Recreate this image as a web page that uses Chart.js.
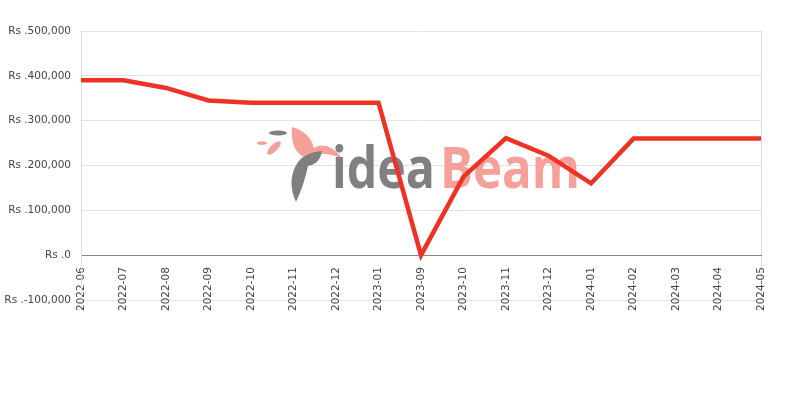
<!DOCTYPE html>
<html>
<head>
<meta charset="utf-8">
<script src="https://cdn.jsdelivr.net/npm/chart.js@4.4.1/dist/chart.umd.min.js"></script>
<style>
  html, body { margin: 0; padding: 0; background: #fff; }
  #wrap { width: 800px; height: 400px; }
</style>
</head>
<body>
<div id="wrap"><canvas id="priceCanvas"></canvas></div>
<script>
// months shown on the axis
const months = ["2022-06", "2022-07", "2022-08", "2022-09", "2022-10", "2022-11", "2022-12", "2023-01",
                "2023-09", "2023-10", "2023-11", "2023-12", "2024-01", "2024-02", "2024-03", "2024-04", "2024-05"];
// price (Rs) per month
const prices = [390000, 390000, 373000, 345000, 340000, 340000, 340000, 340000,
                0, 175000, 261000, 222000, 160000, 260000, 260000, 260000, 260000];
// y axis range
const yMin = -100000;
const yMax = 500000;
const yStep = 100000;

// watermark "ideaBeam" behind the line
const watermark = {
    id: "watermark",
    beforeDatasetsDraw(chart) {
        const ctx = chart.ctx;
        ctx.save();
        // bird logo (rough)
        ctx.fillStyle = "#f5a099";
        ctx.beginPath();
        ctx.moveTo(292, 127);
        ctx.quadraticCurveTo(310, 132, 314, 148);
        ctx.quadraticCurveTo(328, 140, 342, 158);
        ctx.quadraticCurveTo(320, 150, 304, 157);
        ctx.quadraticCurveTo(290, 150, 292, 127);
        ctx.fill();
        ctx.beginPath();
        ctx.ellipse(274, 148, 3.5, 9, Math.PI / 4, 0, Math.PI * 2);
        ctx.fill();
        ctx.beginPath();
        ctx.ellipse(262, 143, 5, 1.8, 0, 0, Math.PI * 2);
        ctx.fill();
        ctx.fillStyle = "#7f7f7f";
        ctx.beginPath();
        ctx.ellipse(278, 133, 9, 2.5, 0, 0, Math.PI * 2);
        ctx.fill();
        ctx.beginPath();
        ctx.moveTo(296, 202);
        ctx.quadraticCurveTo(286, 180, 298, 162);
        ctx.quadraticCurveTo(306, 152, 322, 151);
        ctx.quadraticCurveTo(320, 164, 308, 166);
        ctx.quadraticCurveTo(304, 185, 296, 202);
        ctx.fill();

        ctx.font = '700 58px "Open Sans"';
        ctx.textBaseline = "alphabetic";
        const parts = [["idea", "#808080", 332, 435], ["Beam", "#f5a099", 440, 580]];
        parts.forEach(p => {
            const w = ctx.measureText(p[0]).width;
            ctx.save();
            ctx.translate(p[2], 188);
            ctx.scale((p[3] - p[2]) / w, 1);
            ctx.fillStyle = p[1];
            ctx.fillText(p[0], 0, 0);
            ctx.restore();
        });
        ctx.restore();
    }
};

const canvas = document.getElementById("priceCanvas");
const lineChart = new Chart(canvas, {
    type: "line",
    data: {
        labels: months,
        datasets: [{
            data: prices,
            borderColor: "#ee3224",
            borderWidth: 4.5,
            pointRadius: 0,
            tension: 0,
            fill: false
        }]
    },
    options: {
        responsive: true,
        maintainAspectRatio: false,
        animation: false,
        layout: {
            padding: { top: 31, bottom: 100, left: 5, right: 39 }
        },
        plugins: {
            legend: { display: false },
            tooltip: { enabled: false }
        },
        scales: {
            x: {
                position: { y: 0 },
                offset: false,
                grid: {
                    color: c => c.index === months.length - 1 ? "#dddddd" : "transparent",
                    tickColor: "transparent",
                    drawTicks: true,
                    tickLength: 10
                },
                border: { color: "#888888", width: 1 },
                ticks: {
                    autoSkip: false,
                    maxRotation: 90,
                    minRotation: 90,
                    padding: 2,
                    color: "#444444",
                    font: { family: "DejaVu Sans", size: 10.5 }
                }
            },
            y: {
                min: yMin,
                max: yMax,
                afterFit: s => { s.width = 76; },
                grid: {
                    color: "#e2e2e2",
                    drawTicks: false
                },
                border: { color: "#dddddd" },
                ticks: {
                    stepSize: yStep,
                    padding: 10,
                    color: "#444444",
                    font: { family: "DejaVu Sans", size: 10.5 },
                    callback: v => "Rs ." + v.toLocaleString("en-US")
                }
            }
        }
    },
    plugins: [watermark]
});
</script>
</body>
</html>
